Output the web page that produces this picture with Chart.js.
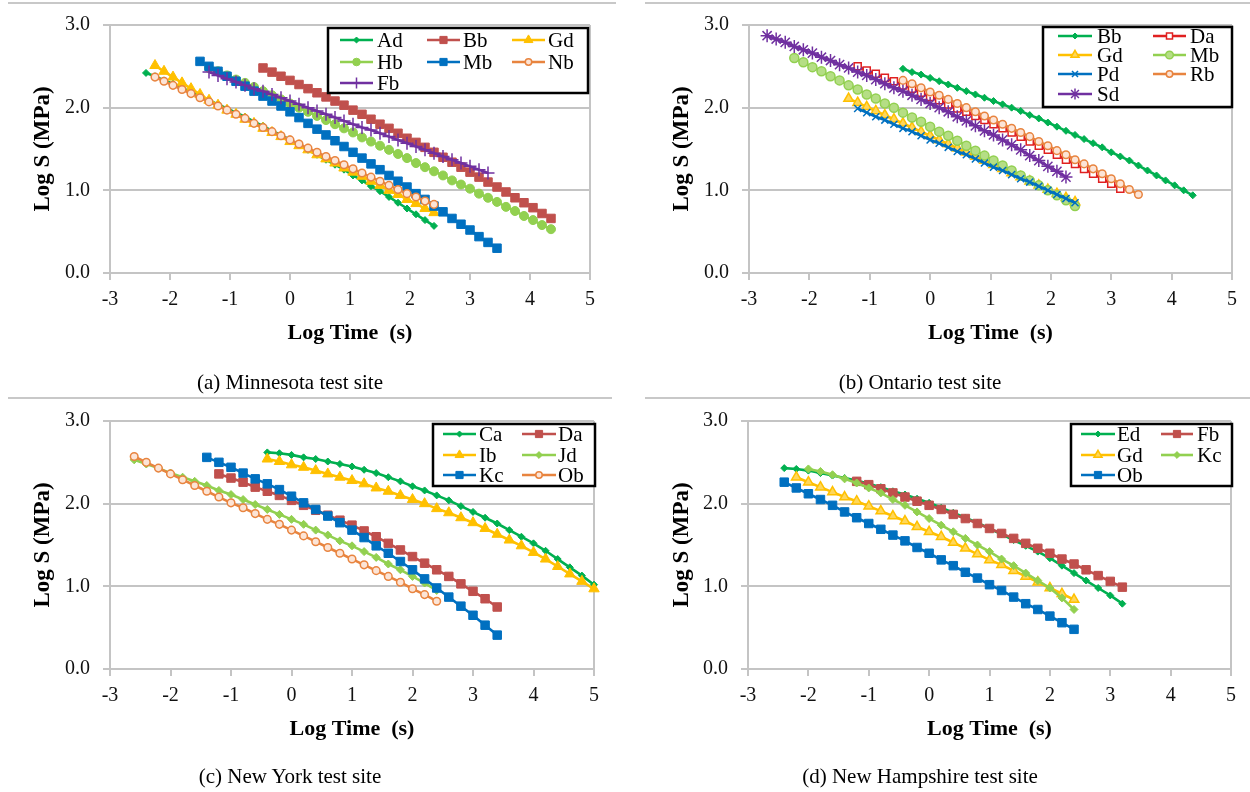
<!DOCTYPE html>
<html>
<head>
<meta charset="utf-8">
<script src="https://cdn.jsdelivr.net/npm/chart.js@4.4.0/dist/chart.umd.min.js"></script>
<style>
  body { margin: 0; background: #fff; }
  #wrap { position: relative; width: 1250px; height: 792px; overflow: hidden; font-family: 'Liberation Serif', 'Times New Roman', serif; }
  .panel { position: absolute; width: 625px; height: 396px; }
  .sep { position: absolute; height: 2px; background: #c8c8c8; }
  .cap { position: absolute; font-size: 21px; color: #000; white-space: nowrap; transform: translateX(-50%); }
</style>
</head>
<body>
<div id="wrap">
  <div class="sep" style="left:8px;top:2px;width:608px"></div>
  <div class="sep" style="left:645px;top:2px;width:605px"></div>
  <div class="sep" style="left:8px;top:397px;width:604px"></div>
  <div class="sep" style="left:645px;top:397px;width:605px"></div>

  <div class="panel" style="left:0;top:0"><canvas id="mn" width="625" height="396"></canvas></div>
  <div class="panel" style="left:625px;top:0"><canvas id="on" width="625" height="396"></canvas></div>
  <div class="panel" style="left:0;top:396px"><canvas id="ny" width="625" height="396"></canvas></div>
  <div class="panel" style="left:625px;top:396px"><canvas id="nh" width="625" height="396"></canvas></div>

  <div class="cap" style="left:290px;top:370px">(a) Minnesota test site</div>
  <div class="cap" style="left:920px;top:370px">(b) Ontario test site</div>
  <div class="cap" style="left:290px;top:764px">(c) New York test site</div>
  <div class="cap" style="left:920px;top:764px">(d) New Hampshire test site</div>
</div>

<script>
// log time grids (panels a/b use 0.15 steps, c/d use 0.2 steps)
const gridAB = [-2.7, -2.55, -2.4, -2.25, -2.1, -1.95, -1.8, -1.65, -1.5, -1.35, -1.2, -1.05, -0.9, -0.75, -0.6, -0.45, -0.3, -0.15, 0,
  0.15, 0.3, 0.45, 0.6, 0.75, 0.9, 1.05, 1.2, 1.35, 1.5, 1.65, 1.8, 1.95, 2.1, 2.25, 2.4, 2.55, 2.7, 2.85, 3, 3.15, 3.3, 3.45,
  3.6, 3.75, 3.9, 4.05, 4.2, 4.35, 4.5];
const gridCD = [-2.6, -2.4, -2.2, -2, -1.8, -1.6, -1.4, -1.2, -1, -0.8, -0.6, -0.4, -0.2, 0, 0.2, 0.4, 0.6, 0.8, 1, 1.2, 1.4,
  1.6, 1.8, 2, 2.2, 2.4, 2.6, 2.8, 3, 3.2, 3.4, 3.6, 3.8, 4, 4.2, 4.4, 4.6, 4.8, 5];

const xTicks = [-3, -2, -1, 0, 1, 2, 3, 4, 5];
const yTicks = [0, 1, 2, 3];

// (a) Minnesota
const mnNames = ['Ad', 'Bb', 'Gd', 'Hb', 'Mb', 'Nb', 'Fb'];
const mnStart = [-2.4, -0.45, -2.25, -1.35, -1.5, -2.25, -1.35];
const mnAd = [2.42, 2.38, 2.33, 2.29, 2.24, 2.19, 2.14, 2.09, 2.04, 1.99, 1.94, 1.89, 1.83, 1.78, 1.72, 1.67, 1.61, 1.55, 1.49, 1.43, 1.37, 1.31, 1.25, 1.18, 1.12, 1.05, 0.99, 0.92, 0.85, 0.78, 0.71, 0.64, 0.57];
const mnBb = [2.48, 2.43, 2.38, 2.33, 2.28, 2.23, 2.18, 2.13, 2.08, 2.03, 1.97, 1.92, 1.86, 1.80, 1.75, 1.69, 1.63, 1.58, 1.52, 1.46, 1.40, 1.34, 1.28, 1.22, 1.16, 1.10, 1.04, 0.98, 0.91, 0.85, 0.79, 0.72, 0.66];
const mnGd = [2.51, 2.44, 2.37, 2.30, 2.23, 2.16, 2.09, 2.03, 1.97, 1.92, 1.86, 1.81, 1.75, 1.70, 1.65, 1.59, 1.54, 1.49, 1.43, 1.38, 1.33, 1.27, 1.22, 1.17, 1.11, 1.06, 1.00, 0.95, 0.89, 0.84, 0.78, 0.73];
const mnHb = [2.48, 2.44, 2.39, 2.34, 2.30, 2.25, 2.20, 2.15, 2.10, 2.05, 2.00, 1.95, 1.90, 1.85, 1.80, 1.75, 1.70, 1.64, 1.59, 1.54, 1.49, 1.44, 1.39, 1.33, 1.28, 1.23, 1.18, 1.12, 1.07, 1.02, 0.96, 0.91, 0.86, 0.80, 0.75, 0.69, 0.64, 0.58, 0.53];
const mnMb = [2.56, 2.50, 2.44, 2.38, 2.32, 2.26, 2.20, 2.14, 2.08, 2.02, 1.95, 1.88, 1.81, 1.74, 1.67, 1.60, 1.53, 1.46, 1.39, 1.32, 1.25, 1.18, 1.11, 1.04, 0.96, 0.89, 0.81, 0.74, 0.66, 0.59, 0.52, 0.44, 0.37, 0.30];
const mnNb = [2.37, 2.32, 2.27, 2.22, 2.17, 2.12, 2.07, 2.02, 1.97, 1.92, 1.87, 1.81, 1.76, 1.71, 1.66, 1.61, 1.56, 1.51, 1.46, 1.41, 1.36, 1.31, 1.26, 1.21, 1.16, 1.11, 1.06, 1.01, 0.96, 0.92, 0.87, 0.83];
const mnFb = [2.43, 2.39, 2.35, 2.31, 2.27, 2.23, 2.20, 2.16, 2.12, 2.08, 2.04, 2.00, 1.96, 1.92, 1.88, 1.84, 1.80, 1.76, 1.73, 1.69, 1.65, 1.61, 1.57, 1.53, 1.49, 1.45, 1.41, 1.37, 1.33, 1.29, 1.25, 1.21];

// (b) Ontario
const onNames = ['Bb', 'Da', 'Gd', 'Mb', 'Pd', 'Rb', 'Sd'];
const onStart = [-0.45, -1.2, -1.35, -2.25, -1.2, -0.45, -2.7];
const onBb = [2.47, 2.43, 2.40, 2.36, 2.32, 2.28, 2.24, 2.20, 2.16, 2.12, 2.08, 2.04, 2.00, 1.96, 1.91, 1.87, 1.82, 1.77, 1.72, 1.67, 1.62, 1.57, 1.52, 1.46, 1.41, 1.36, 1.30, 1.24, 1.18, 1.12, 1.06, 1.00, 0.94];
const onDa = [2.50, 2.45, 2.41, 2.36, 2.32, 2.27, 2.23, 2.18, 2.13, 2.09, 2.04, 1.99, 1.95, 1.90, 1.85, 1.80, 1.75, 1.70, 1.65, 1.59, 1.54, 1.49, 1.43, 1.37, 1.32, 1.26, 1.20, 1.14, 1.08, 1.02];
const onGd = [2.11, 2.06, 2.01, 1.96, 1.91, 1.86, 1.81, 1.76, 1.71, 1.66, 1.61, 1.56, 1.51, 1.46, 1.41, 1.36, 1.31, 1.26, 1.21, 1.16, 1.11, 1.06, 1.01, 0.96, 0.91, 0.86];
const onMb = [2.60, 2.55, 2.49, 2.44, 2.38, 2.33, 2.27, 2.22, 2.16, 2.11, 2.05, 2.00, 1.94, 1.88, 1.83, 1.77, 1.71, 1.66, 1.60, 1.54, 1.48, 1.42, 1.36, 1.30, 1.24, 1.18, 1.12, 1.06, 1.00, 0.94, 0.88, 0.81];
const onPd = [1.99, 1.94, 1.89, 1.85, 1.80, 1.75, 1.71, 1.66, 1.61, 1.57, 1.52, 1.47, 1.43, 1.38, 1.33, 1.28, 1.24, 1.19, 1.14, 1.10, 1.05, 1.00, 0.95, 0.90, 0.85];
const onRb = [2.33, 2.29, 2.24, 2.19, 2.15, 2.10, 2.05, 2.00, 1.95, 1.90, 1.85, 1.80, 1.75, 1.70, 1.65, 1.59, 1.54, 1.48, 1.43, 1.37, 1.32, 1.26, 1.20, 1.14, 1.08, 1.01, 0.95];
const onSd = [2.87, 2.83, 2.79, 2.74, 2.70, 2.66, 2.61, 2.57, 2.52, 2.48, 2.43, 2.39, 2.34, 2.29, 2.24, 2.20, 2.15, 2.10, 2.05, 2.00, 1.95, 1.89, 1.84, 1.78, 1.72, 1.67, 1.61, 1.55, 1.49, 1.42, 1.36, 1.29, 1.23, 1.16];

// (c) New York
const nyNames = ['Ca', 'Da', 'Ib', 'Jd', 'Kc', 'Ob'];
const nyStart = [-0.4, -1.2, -0.4, -2.6, -1.4, -2.6];
const nyCa = [2.62, 2.61, 2.59, 2.56, 2.54, 2.51, 2.48, 2.45, 2.41, 2.37, 2.32, 2.27, 2.21, 2.16, 2.10, 2.04, 1.97, 1.90, 1.83, 1.76, 1.68, 1.60, 1.52, 1.43, 1.33, 1.23, 1.13, 1.02];
const nyDa = [2.36, 2.31, 2.26, 2.20, 2.15, 2.10, 2.04, 1.98, 1.92, 1.86, 1.80, 1.74, 1.67, 1.60, 1.52, 1.44, 1.36, 1.28, 1.20, 1.12, 1.03, 0.94, 0.85, 0.75];
const nyIb = [2.54, 2.51, 2.47, 2.44, 2.40, 2.36, 2.32, 2.28, 2.24, 2.19, 2.15, 2.10, 2.05, 2.00, 1.94, 1.89, 1.83, 1.77, 1.70, 1.63, 1.56, 1.49, 1.41, 1.33, 1.24, 1.15, 1.06, 0.97];
const nyJd = [2.53, 2.48, 2.43, 2.37, 2.32, 2.27, 2.22, 2.16, 2.11, 2.05, 1.99, 1.93, 1.87, 1.81, 1.75, 1.68, 1.62, 1.55, 1.49, 1.42, 1.35, 1.27, 1.20, 1.12, 1.04, 0.95];
const nyKc = [2.56, 2.50, 2.44, 2.37, 2.30, 2.24, 2.17, 2.09, 2.01, 1.93, 1.85, 1.77, 1.68, 1.59, 1.49, 1.40, 1.30, 1.20, 1.09, 0.98, 0.87, 0.76, 0.65, 0.53, 0.41];
const nyOb = [2.57, 2.50, 2.43, 2.36, 2.29, 2.22, 2.15, 2.08, 2.01, 1.95, 1.88, 1.81, 1.75, 1.68, 1.61, 1.54, 1.47, 1.40, 1.33, 1.26, 1.19, 1.12, 1.05, 0.97, 0.90, 0.82];

// (d) New Hampshire
const nhNames = ['Ed', 'Fb', 'Gd', 'Kc', 'Ob'];
const nhStart = [-2.4, -1.2, -2.2, -2, -2.4];
const nhEd = [2.43, 2.42, 2.40, 2.37, 2.34, 2.31, 2.28, 2.24, 2.20, 2.15, 2.11, 2.06, 2.01, 1.95, 1.89, 1.83, 1.77, 1.70, 1.63, 1.56, 1.49, 1.42, 1.34, 1.25, 1.16, 1.07, 0.98, 0.89, 0.79];
const nhFb = [2.27, 2.23, 2.18, 2.13, 2.08, 2.03, 1.98, 1.93, 1.87, 1.82, 1.76, 1.70, 1.64, 1.58, 1.52, 1.46, 1.40, 1.33, 1.27, 1.20, 1.13, 1.06, 0.99];
const nhGd = [2.32, 2.26, 2.20, 2.14, 2.08, 2.03, 1.97, 1.91, 1.85, 1.79, 1.72, 1.66, 1.60, 1.53, 1.46, 1.39, 1.32, 1.26, 1.19, 1.12, 1.05, 0.98, 0.91, 0.84];
const nhKc = [2.42, 2.39, 2.35, 2.30, 2.25, 2.19, 2.13, 2.05, 1.98, 1.90, 1.82, 1.74, 1.66, 1.58, 1.50, 1.42, 1.33, 1.25, 1.16, 1.07, 0.98, 0.86, 0.72];
const nhOb = [2.26, 2.19, 2.12, 2.05, 1.98, 1.90, 1.83, 1.76, 1.69, 1.62, 1.55, 1.47, 1.40, 1.32, 1.25, 1.17, 1.10, 1.02, 0.95, 0.87, 0.79, 0.72, 0.64, 0.56, 0.48];

// marker looks (Excel-like)
const MARK = {
  green:      { line: '#00B050', style: 'rectRot', r: 3.5, fill: '#00B050', stroke: '#00B050', bw: 1 },
  darkred:    { line: '#C0504D', style: 'rect', r: 6, fill: '#C0504D', stroke: '#C0504D', bw: 1 },
  yellow:     { line: '#FFC000', style: 'triangle', r: 6, fill: '#FFC000', stroke: '#FFC000', bw: 1 },
  yellowOpen: { line: '#FFC000', style: 'triangle', r: 5.5, fill: '#FFD75A', stroke: '#FFC000', bw: 1.5 },
  lgCircle:   { line: '#92D050', style: 'circle', r: 4.5, fill: '#92D050', stroke: '#92D050', bw: 1 },
  lgRing:     { line: '#92D050', style: 'circle', r: 4.5, fill: '#B5DE85', stroke: '#92D050', bw: 1.5 },
  lgDiamond:  { line: '#92D050', style: 'rectRot', r: 4, fill: '#92D050', stroke: '#92D050', bw: 1 },
  blueSq:     { line: '#0070C0', style: 'rect', r: 6, fill: '#0070C0', stroke: '#0070C0', bw: 1 },
  blueX:      { line: '#0070C0', style: 'crossRot', r: 5, fill: '#0070C0', stroke: '#0070C0', bw: 1.5 },
  orangeRing: { line: '#E8843F', style: 'circle', r: 3.8, fill: '#FCE4D6', stroke: '#E8843F', bw: 1.5 },
  purpleCross:{ line: '#7030A0', style: 'cross', r: 6.5, fill: '#7030A0', stroke: '#7030A0', bw: 1.5 },
  purpleStar: { line: '#7030A0', style: 'star', r: 6.5, fill: '#7030A0', stroke: '#7030A0', bw: 1.5 },
  redOpenSq:  { line: '#E02020', style: 'rect', r: 5, fill: '#ffffff', stroke: '#E02020', bw: 1.5 }
};

function buildSets(names, starts, values, marks, grid) {
  return names.map(function (name, i) {
    const m = MARK[marks[i]];
    const from = grid.indexOf(starts[i]);
    return {
      label: name,
      data: values[i].map(function (v, k) { return { x: grid[from + k], y: v }; }),
      showLine: true,
      borderColor: m.line,
      borderWidth: 2.6,
      pointStyle: m.style,
      pointRadius: m.r,
      pointBackgroundColor: m.fill,
      pointBorderColor: m.stroke,
      pointBorderWidth: m.bw,
      tension: 0,
      clip: false,
      order: -i   // later series on top, like Excel
    };
  });
}

// right frame line + boxed legend
const frameLegend = {
  id: 'frameLegend',
  beforeDatasetsDraw(chart) {
    const ctx = chart.ctx, a = chart.chartArea;
    ctx.save();
    ctx.strokeStyle = '#c4c4c4';
    ctx.lineWidth = 2;
    ctx.beginPath();
    ctx.moveTo(a.right, a.top);
    ctx.lineTo(a.right, a.bottom);
    ctx.stroke();
    ctx.restore();
  },
  afterDatasetsDraw(chart, args, opts) {
    if (!opts.box) return;
    const ctx = chart.ctx, b = opts.box;
    ctx.save();
    ctx.fillStyle = '#fff';
    ctx.fillRect(b[0], b[1], b[2] - b[0], b[3] - b[1]);
    ctx.strokeStyle = '#000';
    ctx.lineWidth = 2.5;
    ctx.strokeRect(b[0], b[1], b[2] - b[0], b[3] - b[1]);
    ctx.font = '21px "Liberation Serif"';
    ctx.textBaseline = 'middle';
    ctx.textAlign = 'left';
    chart.data.datasets.forEach(function (ds, i) {
      const col = opts.cols[i % opts.cols.length];
      const y = opts.rows[Math.floor(i / opts.cols.length)];
      ctx.strokeStyle = ds.borderColor;
      ctx.lineWidth = ds.borderWidth;
      ctx.beginPath();
      ctx.moveTo(col[0], y);
      ctx.lineTo(col[1], y);
      ctx.stroke();
      ctx.fillStyle = ds.pointBackgroundColor;
      ctx.strokeStyle = ds.pointBorderColor;
      ctx.lineWidth = ds.pointBorderWidth;
      Chart.helpers.drawPoint(ctx, {
        pointStyle: ds.pointStyle, radius: ds.pointRadius * 0.85, rotation: 0, borderWidth: ds.pointBorderWidth
      }, (col[0] + col[1]) / 2, y);
      ctx.fillStyle = '#000';
      ctx.fillText(ds.label, col[2], y + 1);
    });
    ctx.restore();
  }
};

function makePanel(id, datasets, area, yTitlePad, legend) {
  const xAxisH = 80;
  new Chart(document.getElementById(id), {
    type: 'scatter',
    data: { datasets: datasets },
    options: {
      responsive: false,
      animation: false,
      layout: { padding: { left: 0, top: area.top, right: 625 - area.right, bottom: 396 - area.bottom - xAxisH } },
      plugins: {
        legend: { display: false },
        tooltip: { enabled: false },
        frameLegend: legend
      },
      scales: {
        x: {
          type: 'linear', min: -3, max: 5,
          afterFit: function (s) { s.height = xAxisH; },
          afterBuildTicks: function (s) { s.ticks = xTicks.map(function (v) { return { value: v }; }); },
          grid: { drawOnChartArea: false, drawTicks: true, tickLength: 7, color: '#c4c4c4', lineWidth: 2 },
          border: { color: '#c4c4c4', width: 2 },
          ticks: { color: '#111', padding: 8, font: { family: 'Liberation Serif', size: 20 } },
          title: {
            display: true, text: 'Log Time  (s)', color: '#000',
            font: { family: 'Liberation Serif', size: 22, weight: 'bold' },
            padding: { top: 0, bottom: 6 }
          }
        },
        y: {
          type: 'linear', min: 0, max: 3,
          afterFit: function (s) { s.width = area.left; },
          afterBuildTicks: function (s) { s.ticks = yTicks.map(function (v) { return { value: v }; }); },
          grid: { drawTicks: true, tickLength: 7, color: '#c4c4c4', lineWidth: 2 },
          border: { color: '#c4c4c4', width: 2 },
          ticks: {
            color: '#111', padding: 13, font: { family: 'Liberation Serif', size: 20 },
            callback: function (v) { return Number(v).toFixed(1); }
          },
          title: {
            display: true, text: 'Log S (MPa)', color: '#000',
            font: { family: 'Liberation Serif', size: 23, weight: 'bold' },
            padding: { top: yTitlePad, bottom: 0 }
          }
        }
      }
    },
    plugins: [frameLegend]
  });
}

makePanel('mn',
  buildSets(mnNames, mnStart, [mnAd, mnBb, mnGd, mnHb, mnMb, mnNb, mnFb],
    ['green', 'darkred', 'yellow', 'lgCircle', 'blueSq', 'orangeRing', 'purpleCross'], gridAB),
  { left: 110, right: 590, top: 24, bottom: 273 }, 29,
  { box: [328, 28, 588, 93], rows: [40, 62, 83], cols: [[340, 373, 377], [427, 460, 463], [512, 545, 548]] });

makePanel('on',
  buildSets(onNames, onStart, [onBb, onDa, onGd, onMb, onPd, onRb, onSd],
    ['green', 'redOpenSq', 'yellowOpen', 'lgRing', 'blueX', 'orangeRing', 'purpleStar'], gridAB),
  { left: 124, right: 607, top: 24, bottom: 273 }, 43,
  { box: [418, 27, 607, 107], rows: [36, 55, 74, 94], cols: [[433, 467, 472], [528, 561, 565]] });

makePanel('ny',
  buildSets(nyNames, nyStart, [nyCa, nyDa, nyIb, nyJd, nyKc, nyOb],
    ['green', 'darkred', 'yellow', 'lgDiamond', 'blueSq', 'orangeRing'], gridCD),
  { left: 110, right: 594, top: 23, bottom: 273 }, 29,
  { box: [433, 28, 595, 90], rows: [38, 59, 79], cols: [[443, 476, 479], [522, 556, 558]] });

makePanel('nh',
  buildSets(nhNames, nhStart, [nhEd, nhFb, nhGd, nhKc, nhOb],
    ['green', 'darkred', 'yellowOpen', 'lgDiamond', 'blueSq'], gridCD),
  { left: 123, right: 606, top: 23, bottom: 273 }, 43,
  { box: [446, 28, 607, 90], rows: [38, 59, 79], cols: [[456, 490, 492], [536, 568, 572]] });
</script>
</body>
</html>
